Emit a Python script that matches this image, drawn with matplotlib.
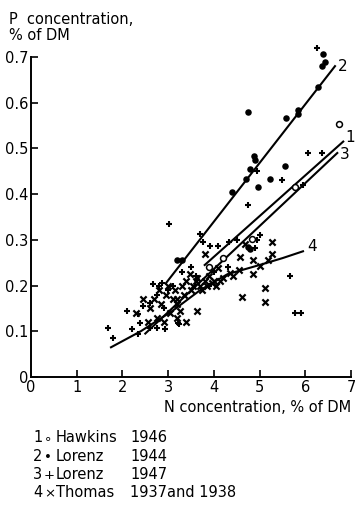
import matplotlib
matplotlib.use("Agg")
import matplotlib.pyplot as plt

# ---------------- data ----------------
hawkins_x = [6.74, 5.78, 4.84, 4.2, 3.9]
hawkins_y = [0.553, 0.415, 0.302, 0.26, 0.24]

lorenz44_x = [6.39, 6.43, 6.37, 6.28, 5.84, 5.84, 5.58, 4.75, 4.88, 4.90, 4.79, 4.70,
              5.23, 5.56, 4.97, 4.40, 3.19, 3.30, 4.79, 4.75]
lorenz44_y = [0.706, 0.69, 0.68, 0.635, 0.585, 0.575, 0.566, 0.579, 0.484, 0.475, 0.454, 0.434,
              0.434, 0.462, 0.415, 0.404, 0.257, 0.257, 0.28, 0.285]

lorenz47_x = [1.69, 1.80, 2.10, 2.21, 2.34, 2.39, 2.34, 2.45, 2.60, 2.60, 2.76, 2.93, 3.22,
              2.67, 2.87, 2.75, 2.90, 3.02, 3.24, 3.70, 3.77, 3.92, 4.09, 4.33, 4.75, 4.95,
              4.90, 5.49, 5.95, 6.06, 6.37, 6.26, 5.67, 5.78, 5.91, 3.30, 3.50, 3.60, 3.90,
              4.00, 4.50, 4.30, 3.10, 3.00, 2.80, 5.00, 4.95]
lorenz47_y = [0.108, 0.086, 0.145, 0.106, 0.095, 0.119, 0.138, 0.156, 0.162, 0.108, 0.108, 0.106, 0.119,
              0.203, 0.205, 0.18, 0.15, 0.335, 0.117, 0.313, 0.296, 0.287, 0.287, 0.296, 0.376, 0.45,
              0.283, 0.43, 0.419, 0.49, 0.49, 0.72, 0.222, 0.14, 0.14, 0.23, 0.24, 0.22, 0.20,
              0.23, 0.30, 0.24, 0.20, 0.19, 0.20, 0.31, 0.30]

thomas_x = [2.60, 2.70, 2.75, 2.80, 2.85, 2.90, 2.95, 3.00, 3.05, 3.10, 3.15, 3.20, 3.19, 3.26,
            3.30, 3.35, 3.40, 3.48, 3.50, 3.55, 3.60, 3.63, 3.63, 3.70, 3.75, 3.80, 3.81, 3.85,
            3.90, 3.95, 4.00, 4.05, 4.09, 4.14, 4.20, 4.35, 4.42, 4.55, 4.57, 4.62, 4.68, 4.86,
            4.86, 5.01, 5.12, 5.12, 5.19, 5.27, 5.27, 2.45, 2.55, 2.30, 3.20, 3.40]
thomas_y = [0.15, 0.17, 0.13, 0.19, 0.16, 0.12, 0.18, 0.20, 0.14, 0.17, 0.19, 0.16, 0.171, 0.145,
            0.20, 0.18, 0.21, 0.225, 0.19, 0.20, 0.21, 0.216, 0.145, 0.20, 0.19, 0.21, 0.268, 0.20,
            0.22, 0.205, 0.21, 0.20, 0.238, 0.21, 0.216, 0.227, 0.222, 0.235, 0.263, 0.175, 0.29, 0.255,
            0.225, 0.242, 0.194, 0.164, 0.255, 0.296, 0.27, 0.17, 0.12, 0.14, 0.13, 0.12]

# regression lines
line1_x = [3.8, 6.83]
line1_y = [0.245, 0.515]
line2_x = [2.95, 6.65]
line2_y = [0.205, 0.68]
line3_x = [2.5, 6.7]
line3_y = [0.095, 0.49]
line4_x = [1.75, 2.4, 3.1, 3.7, 4.3, 5.0, 5.5, 5.95]
line4_y = [0.065, 0.10, 0.145, 0.19, 0.225, 0.245, 0.26, 0.275]

x_ticks = [0, 1, 2, 3, 4, 5, 6, 7]
y_ticks = [0, 0.1, 0.2, 0.3, 0.4, 0.5, 0.6, 0.7]
y_ticklabels = ["0", "0.1", "0.2", "0.3", "0.4", "0.5", "0.6", "0.7"]

legend_nums = ["1", "2", "3", "4"]
legend_syms = ["∘", "•", "+", "×"]
legend_names = ["Hawkins", "Lorenz", "Lorenz", "Thomas"]
legend_years = ["1946", "1944", "1947", "1937and 1938"]

# ---------------- figure ----------------
plt.rcParams['font.family'] = ['DejaVu Sans']
W, H = 355, 508
fig = plt.figure(figsize=(W / 100, H / 100), dpi=100)
ax = fig.add_axes([31 / W, 131 / H, 320 / W, 320 / H])
ax.set_xlim(0, 7)
ax.set_ylim(0, 0.7)
for s in ["top", "right"]:
    ax.spines[s].set_visible(False)
for s in ["left", "bottom"]:
    ax.spines[s].set_linewidth(1.4)
ax.set_xticks(x_ticks)
ax.set_xticklabels([str(v) for v in x_ticks])
ax.set_yticks(y_ticks)
ax.set_yticklabels(y_ticklabels)
ax.tick_params(direction="in", length=5, width=1.2, labelsize=10.5, pad=2)

kw = dict(clip_on=False, zorder=3)
ax.scatter(thomas_x, thomas_y, marker="x", s=20, c="black", linewidths=1.6, **kw)
ax.scatter(lorenz47_x, lorenz47_y, marker="+", s=24, c="black", linewidths=1.5, **kw)
ax.scatter(lorenz44_x, lorenz44_y, marker="o", s=22, c="black", linewidths=0, **kw)
ax.scatter(hawkins_x, hawkins_y, marker="o", s=18, facecolors="white", edgecolors="black",
           linewidths=1.1, **kw)

lw = 1.5
ax.plot(line1_x, line1_y, color="black", lw=lw, clip_on=False)
ax.plot(line2_x, line2_y, color="black", lw=lw, clip_on=False)
ax.plot(line3_x, line3_y, color="black", lw=lw, clip_on=False)
ax.plot(line4_x, line4_y, color="black", lw=lw, clip_on=False)

ax.text(6.72, 0.68, "2", fontsize=11, va="center", ha="left")
ax.text(6.88, 0.523, "1", fontsize=11, va="center", ha="left")
ax.text(6.76, 0.486, "3", fontsize=11, va="center", ha="left")
ax.text(6.05, 0.285, "4", fontsize=11, va="center", ha="left")

fig.text(9 / W, 1 - 24 / H, "P  concentration,", fontsize=10.5, ha="left", va="baseline")
fig.text(9 / W, 1 - 40 / H, "% of DM", fontsize=10.5, ha="left", va="baseline")
fig.text(351 / W, 1 - 412 / H, "N concentration, % of DM", fontsize=10.5,
         ha="right", va="baseline")

rows = [438, 457, 475, 493]
for n, sym, name, yr, yy in zip(legend_nums, legend_syms, legend_names, legend_years, rows):
    fy = 1 - (yy + 4) / H
    fig.text(33 / W, fy, n, fontsize=10.5, ha="left", va="baseline")
    fig.text(44 / W, fy, sym, fontsize=9.5, ha="left", va="baseline")
    fig.text(56 / W, fy, name, fontsize=10.5, ha="left", va="baseline")
    fig.text(130 / W, fy, yr, fontsize=10.5, ha="left", va="baseline")

fig.savefig("out.png", dpi=100, facecolor="white")
